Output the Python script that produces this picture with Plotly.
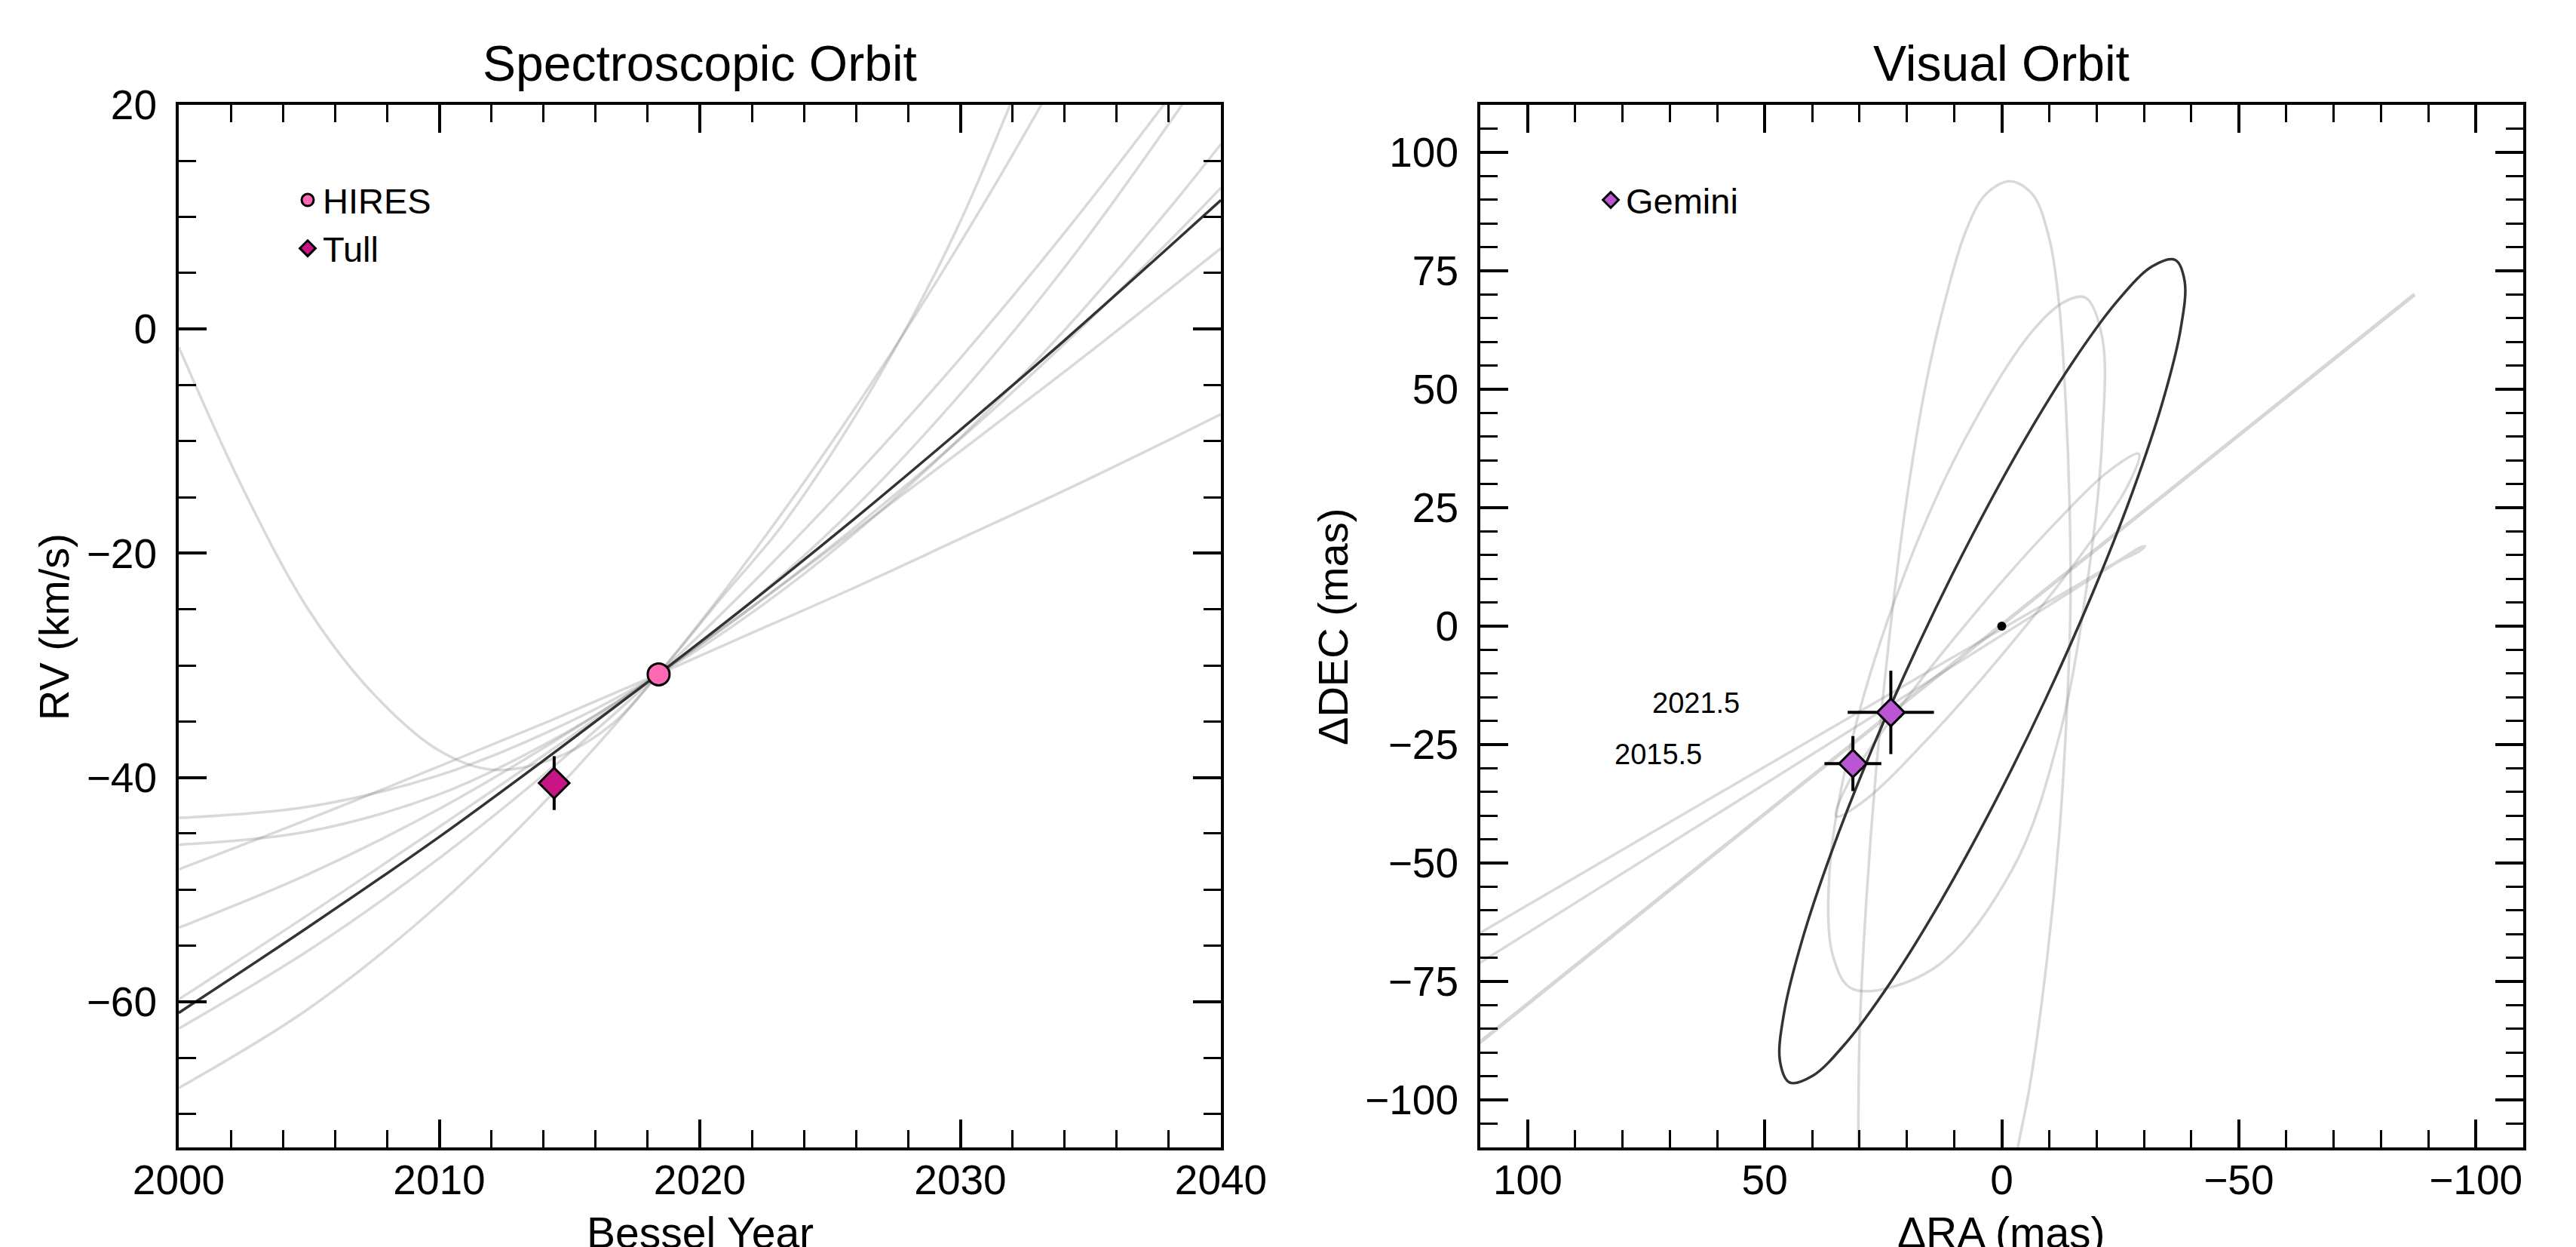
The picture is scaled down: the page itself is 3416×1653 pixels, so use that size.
import plotly.graph_objects as go

W, H = 3416, 1653
FONT = "Liberation Sans, Arial, Helvetica, sans-serif"

# ---------------- Spectroscopic orbit (left panel) ----------------
years = [2000, 2005, 2010, 2014.4, 2018.4, 2022, 2026, 2030, 2034, 2038, 2040]
rv_best = [-61.0, -53.3, -45.3, -37.8, -30.8, -24.3, -16.8, -9.0, -1.0, 7.3, 11.5]

rv_s1 = [-67.7, -60.6, -51.3, -41.3, -30.8, -20.1, -6.9, 7.7, 23.7, 41.1, 50.3]
rv_s2 = [-62.4, -55.4, -47.2, -39.0, -30.8, -22.7, -13.0, -2.6, 8.6, 20.6, 26.9]
rv_s3 = [-46.0, -44.8, -41.5, -36.6, -30.8, -24.3, -15.8, -5.8, 5.5, 18.3, 25.2]
rv_s4 = [-43.6, -42.6, -39.8, -35.7, -30.8, -25.3, -18.1, -9.7, -0.1, 10.7, 16.5]
rv_s5 = [-53.4, -48.6, -42.8, -36.8, -30.8, -24.8, -17.6, -9.8, -1.3, 7.8, 12.6]
rv_s6 = [-59.8, -52.2, -44.4, -37.4, -30.8, -24.8, -17.9, -10.9, -3.8, 3.5, 7.2]
rv_s7 = [-48.2, -43.7, -39.0, -34.8, -30.8, -27.1, -23.0, -18.7, -14.4, -9.9, -7.6]

yrs_s8 = [2000, 2002.5, 2005, 2007.5, 2010, 2012, 2014.3, 2016.5, 2018.4,
          2021, 2023, 2025.5, 2028, 2030, 2032, 2034]
rv_s8 = [-1.6, -14.4, -25.1, -32.6, -37.6, -39.3, -38.4, -35.5, -30.8,
         -23.5, -18.0, -9.5, 0.4, 9.6, 20.5, 32.0]

hires_year = [2018.42]
hires_rv = [-30.8]
tull_year = [2014.41]
tull_rv = [-40.5]
tull_err = [2.4]

# ---------------- Visual orbit (right panel) ----------------
best_ra = [17.30, 27.37, 35.86, 42.18, 45.91, 46.79, 44.76, 39.95, 32.71, 23.52,
           13.00, 1.87, -9.10, -19.17, -27.66, -33.98, -37.71, -38.59, -36.56,
           -31.75, -24.51, -15.32, -4.80, 6.33, 17.30]
best_dec = [-3.30, -25.97, -47.53, -66.49, -81.56, -91.73, -96.29, -94.93, -87.76,
            -75.25, -58.27, -37.95, -15.70, 6.97, 28.53, 47.49, 62.56, 72.73,
            77.29, 75.93, 68.76, 56.25, 39.27, 18.95, -3.30]

o1_ra = [30.6, 30.3, 30.0, 28.6, 26.5, 23.7, 20.2, 16.0, 11.8, 7.6, 3.4, -1.8,
         -6.5, -10.0, -12.1, -13.5, -14.3, -14.5, -13.8, -12.1, -9.3, -5.8, -3.4, -1.8]
o1_dec = [-125, -110, -86.4, -58.4, -30.3, -2.2, 25.8, 51.1, 69.3, 83.3, 91.1, 93.9,
          91.1, 81.9, 67.9, 46.9, 25.8, 4.8, -16.3, -44.3, -72.4, -97.7, -110, -120]

o2_ra = [-21.2, -21.2, -17.7, -13.5, -6.5, 7.6, 20.2, 31.4, 36.3, 35.6, 31.4,
         14.6, -2.2, -12.1, -18.4, -21.2]
o2_dec = [39.8, 60.9, 69.3, 68.6, 62.3, 39.8, 11.8, -23.3, -51.4, -69.6, -76.6,
          -72.4, -51.4, -23.3, 11.8, 39.8]

o3_ra = [6.84, 22.29, 32.56, 34.92, 28.72, 15.63, -0.84, -16.29, -26.56, -28.92,
         -22.72, -9.63, 6.84]
o3_dec = [1.3, -18.26, -33.42, -40.15, -36.62, -23.8, -5.1, 14.46, 29.62, 36.35,
          32.82, 20.0, 1.3]

o4_ra = [150.0, 110.0, 60.0, 20.0, -10.0, -25.0, -29.0, -30.2, -29.0, -25.0,
         -10.0, 20.0, 60.0, 110.0, 150.0]
o4_dec = [-88.0, -64.7, -35.5, -12.2, 5.2, 14.0, 16.5, 16.9, 15.8, 13.8,
          4.4, -14.5, -39.6, -71.0, -96.1]

o5_ra = [130.0, 60.0, 0.0, -50.0, -87.1]
o5_dec = [-103.8, -47.6, 0.3, 40.3, 70.0]

star_ra = [0.0]
star_dec = [0.0]

gem_epoch = [2015.5, 2021.5]
gem_ra = [31.4, 23.4]
gem_dec = [-29.0, -18.2]
gem_ra_err = [6.0, 9.1]
gem_dec_err = [5.8, 8.8]

# ---------------- styles ----------------
GRAY = "rgba(128,128,128,0.30)"
GRAY_LW = 3.5
BEST = "#333333"

fig = go.Figure()


def gray(x, y, xa, ya, width=GRAY_LW, color=GRAY):
    fig.add_trace(go.Scatter(x=x, y=y, mode="lines", xaxis=xa, yaxis=ya,
                             line=dict(color=color, width=width, shape="spline", smoothing=1),
                             showlegend=False, hoverinfo="skip"))


# left panel samples
for rv in [rv_s1, rv_s2, rv_s3, rv_s4, rv_s5, rv_s6, rv_s7]:
    gray(years, rv, "x", "y")
gray(yrs_s8, rv_s8, "x", "y")
fig.add_trace(go.Scatter(x=years, y=rv_best, mode="lines", xaxis="x", yaxis="y",
                         line=dict(color=BEST, width=3.5, shape="spline", smoothing=1),
                         showlegend=False, hoverinfo="skip"))
fig.add_trace(go.Scatter(x=hires_year, y=hires_rv, mode="markers", name="HIRES",
                         xaxis="x", yaxis="y", legend="legend",
                         marker=dict(symbol="circle", size=29, color="#FF69B4",
                                     line=dict(color="black", width=3))))
fig.add_trace(go.Scatter(x=tull_year, y=tull_rv, mode="markers", name="Tull",
                         xaxis="x", yaxis="y", legend="legend",
                         error_y=dict(type="data", array=tull_err, color="black",
                                      thickness=4, width=0),
                         marker=dict(symbol="diamond", size=31, color="#C71585",
                                     line=dict(color="black", width=3))))

# right panel samples
for ra, dec in [(o1_ra, o1_dec), (o2_ra, o2_dec), (o3_ra, o3_dec), (o4_ra, o4_dec)]:
    gray(ra, dec, "x2", "y2")
gray(o5_ra, o5_dec, "x2", "y2", width=5, color="rgba(128,128,128,0.32)")
fig.add_trace(go.Scatter(x=best_ra, y=best_dec, mode="lines", xaxis="x2", yaxis="y2",
                         line=dict(color=BEST, width=3.5, shape="spline", smoothing=1),
                         showlegend=False, hoverinfo="skip"))
fig.add_trace(go.Scatter(x=star_ra, y=star_dec, mode="markers", xaxis="x2", yaxis="y2",
                         marker=dict(color="black", size=12), showlegend=False,
                         hoverinfo="skip"))
fig.add_trace(go.Scatter(x=gem_ra, y=gem_dec, mode="markers", name="Gemini",
                         xaxis="x2", yaxis="y2", legend="legend2",
                         error_x=dict(type="data", array=gem_ra_err, color="black",
                                      thickness=4, width=0),
                         error_y=dict(type="data", array=gem_dec_err, color="black",
                                      thickness=4, width=0),
                         marker=dict(symbol="diamond", size=28, color="#BA55D3",
                                     line=dict(color="black", width=3))))

LABEL_DRA = 31.5
for e, ra, dec in zip(gem_epoch, gem_ra, gem_dec):
    fig.add_annotation(x=ra + LABEL_DRA, y=dec + 2.0, xref="x2", yref="y2",
                       text=f"{e}", showarrow=False, xanchor="right", yanchor="middle",
                       font=dict(family=FONT, size=38, color="black"))

# ---------------- axes ----------------
yd = [1 - 1521 / H, 1 - 139 / H]


def axis(domain, rng, dtick, minor_dtick, tick0, anchor, standoff):
    return dict(domain=domain, range=rng, anchor=anchor, dtick=dtick, tick0=tick0,
                automargin=False,
                showline=True, linecolor="black", linewidth=4, mirror="allticks",
                ticks="inside", ticklen=37, tickwidth=3.5, tickcolor="black",
                showgrid=False, zeroline=False, ticklabelstandoff=standoff,
                tickfont=dict(family=FONT, size=55, color="black"),
                minor=dict(ticks="inside", ticklen=23, tickwidth=3, tickcolor="black",
                           dtick=minor_dtick, tick0=tick0, showgrid=False))


fig.update_layout(
    template="none",
    width=W, height=H,
    margin=dict(l=0, r=0, t=0, b=0, pad=0, autoexpand=False),
    paper_bgcolor="white", plot_bgcolor="white",
    xaxis=axis([237 / W, 1619 / W], [2000, 2040], 10, 2, 2000, "y", -8),
    yaxis=axis(yd, [-73, 20], 20, 5, 0, "x", 14),
    xaxis2=axis([1963 / W, 3346 / W], [110, -110], 50, 10, 0, "y2", -8),
    yaxis2=axis(yd, [-110, 110], 25, 5, 0, "x2", 14),
    legend=dict(x=388 / W, y=1 - 228 / H, xanchor="left", yanchor="top",
                bgcolor="rgba(0,0,0,0)", borderwidth=0,
                font=dict(family=FONT, size=47, color="black")),
    legend2=dict(x=2116 / W, y=1 - 228 / H, xanchor="left", yanchor="top",
                 bgcolor="rgba(0,0,0,0)", borderwidth=0,
                 font=dict(family=FONT, size=47, color="black")),
    showlegend=True,
)

texts = [
    ("Spectroscopic Orbit", 928, 84, 66, 0),
    ("Visual Orbit", 2654, 84, 66, 0),
    ("Bessel Year", 928, 1634, 57, 0),
    ("\u0394RA (mas)", 2654, 1634, 57, 0),
    ("RV (km/s)", 72, 831, 56, -90),
    ("\u0394DEC (mas)", 1768, 831, 56, -90),
]
for t, px, py, sz, ang in texts:
    fig.add_annotation(x=px / W, y=1 - py / H, xref="paper", yref="paper", text=t,
                       showarrow=False, xanchor="center", yanchor="middle",
                       textangle=ang, font=dict(family=FONT, size=sz, color="black"))

fig.write_html("out.html", config={"displayModeBar": False},
               post_script="document.body.style.margin='0';document.body.style.overflow='hidden';")
